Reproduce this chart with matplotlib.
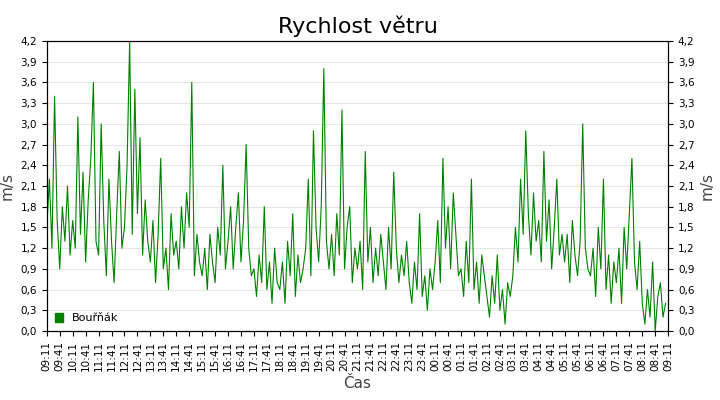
import numpy as np
import pandas as pd
import matplotlib
matplotlib.use('Agg')
import matplotlib.pyplot as plt
import matplotlib.dates as mdates

### data (odhad z obrazku, krok 6 minut)

start = '2020-01-01 09:11'
rychlost = [
    1.5,2.2,1.2,3.4,1.6,0.9,1.8,1.3,2.1,1.1,
    1.6,1.2,3.1,1.4,2.3,1.0,1.9,2.5,3.6,1.3,
    1.1,3.0,1.6,0.8,2.2,1.3,0.7,1.7,2.6,1.2,
    1.5,2.4,4.2,1.4,3.5,1.7,2.8,1.1,1.9,1.3,
    1.0,1.6,0.7,1.4,2.5,0.9,1.2,0.6,1.7,1.1,
    1.3,0.9,1.8,1.2,2.0,1.5,3.6,0.8,1.4,1.0,
    0.8,1.2,0.6,1.4,1.0,0.7,1.5,1.1,2.4,0.9,
    1.3,1.8,0.9,1.5,2.0,1.0,1.6,2.7,1.2,0.8,
    0.9,0.5,1.1,0.7,1.8,0.6,1.0,0.4,1.2,0.7,
    0.6,1.0,0.4,1.3,0.8,1.7,0.5,1.1,0.7,0.9,
    1.2,2.2,0.8,2.9,1.5,1.0,1.8,3.8,1.3,0.9,
    1.4,0.8,1.7,1.1,3.2,0.9,1.5,1.8,0.7,1.2,
    0.9,1.3,0.6,2.6,1.0,1.5,0.7,1.2,0.8,1.4,
    1.0,0.6,1.5,0.9,2.3,1.2,0.7,1.1,0.8,1.3,
    0.7,0.4,1.0,0.6,1.7,0.5,0.8,0.3,0.9,0.6,
    1.0,1.6,0.7,2.5,1.2,1.8,0.9,2.0,1.4,0.8,
    0.9,0.5,1.3,0.7,2.2,0.6,1.0,0.4,1.1,0.8,
    0.5,0.2,0.8,0.4,1.1,0.3,0.6,0.1,0.7,0.5,
    0.8,1.5,1.0,2.2,1.4,2.9,1.7,1.1,2.0,1.3,
    1.6,1.0,2.6,1.3,1.9,0.9,1.5,2.2,1.1,1.4,
    1.0,1.4,0.7,1.6,1.1,0.8,1.3,3.0,1.2,0.9,
    0.8,1.2,0.5,1.5,0.9,2.2,0.6,1.1,0.4,1.0,
    0.7,1.2,0.4,1.5,0.9,1.7,2.5,1.0,0.6,1.3,
    0.4,0.1,0.6,0.2,1.0,0.0,0.5,0.7,0.2,0.4,
]
cas = pd.date_range(start, periods=len(rychlost), freq='6min')
yticks = np.arange(0, 4.21, 0.3)

### graf

fig = plt.figure(figsize=(7.2, 4), dpi=100)
ax = fig.add_axes([0.065, 0.1725, 0.863, 0.725])
ax.plot(cas, rychlost, color='#008000', lw=0.8, label='Bouřňák')

ax.set_xlim(pd.Timestamp(start), pd.Timestamp(start) + pd.Timedelta(hours=24))
ax.set_ylim(0, 4.2)
ax.set_yticks(yticks)
ax.set_yticklabels([f'{v:.1f}'.replace('.', ',') for v in yticks], fontsize=7.5)
ax.xaxis.set_major_locator(mdates.MinuteLocator(byminute=[11, 41]))
ax.xaxis.set_major_formatter(mdates.DateFormatter('%H:%M'))
plt.setp(ax.get_xticklabels(), rotation=90, fontsize=7.5)
ax.grid(axis='y', color='#e6e6e6', lw=0.8)
ax.set_axisbelow(True)

ax2 = ax.twinx()
ax2.set_ylim(0, 4.2)
ax2.set_yticks(yticks)
ax2.set_yticklabels([f'{v:.1f}'.replace('.', ',') for v in yticks], fontsize=7.5)
ax2.set_ylabel('m/s', fontsize=11, color='#444444')

ax.set_title('Rychlost větru', fontsize=16)
ax.set_ylabel('m/s', fontsize=11, color='#444444')
ax.set_xlabel('Čas', fontsize=11, color='#444444')
ax.legend(loc='lower left', frameon=False, fontsize=8, handlelength=0.8,
          handleheight=0.8, borderaxespad=0.3, handles=[
              plt.Rectangle((0, 0), 1, 1, color='#008000', label='Bouřňák')])

fig.savefig('out.png')
